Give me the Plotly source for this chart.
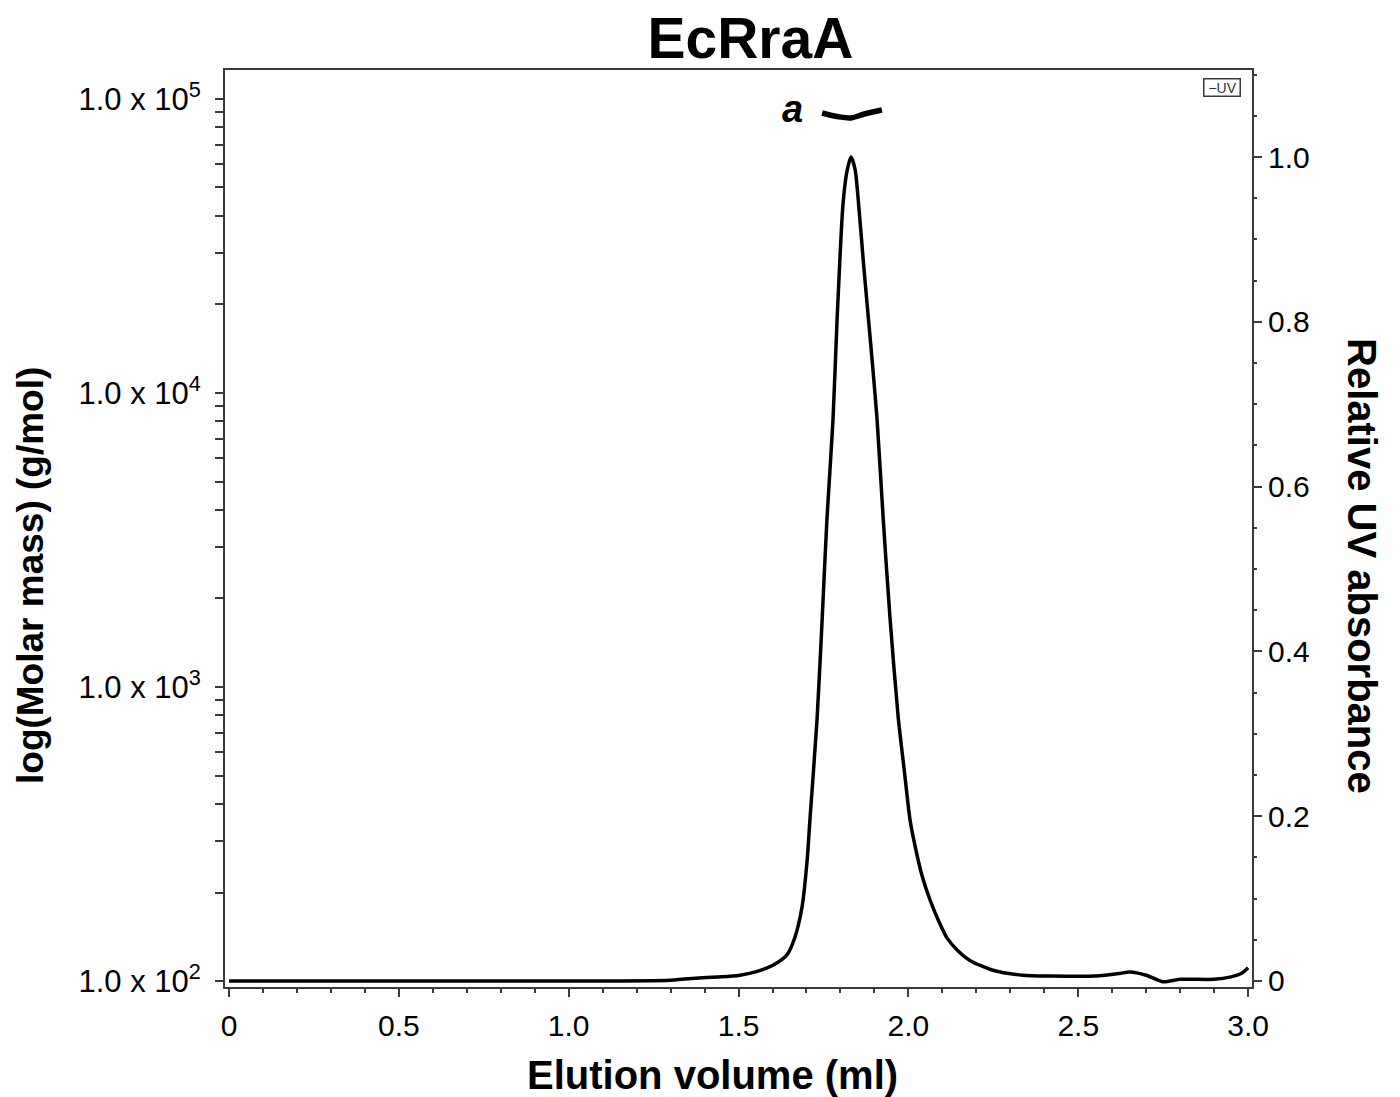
import plotly.graph_objects as go

# ---- data ----
elution_uv = [0.00, 0.50, 1.00, 1.30, 1.395, 1.45, 1.504, 1.55, 1.601, 1.643, 1.666, 1.687,
              1.702, 1.710, 1.731, 1.746, 1.760, 1.778, 1.790, 1.807, 1.818, 1.831,
              1.843, 1.855, 1.868, 1.881, 1.895, 1.908, 1.926, 1.946, 1.970, 1.988, 2.005,
              2.020, 2.040, 2.064, 2.090, 2.114, 2.145, 2.181, 2.249, 2.337, 2.42,
              2.55, 2.62, 2.652, 2.70, 2.75, 2.80, 2.90, 2.95, 2.98, 3.00]
uv_abs = [0.000, 0.000, 0.000, 0.001, 0.004, 0.005, 0.007, 0.011, 0.019, 0.032, 0.053, 0.090,
          0.147, 0.195, 0.317, 0.438, 0.559, 0.681, 0.802, 0.940, 0.980, 1.000,
          0.985, 0.935, 0.870, 0.810, 0.745, 0.680, 0.560, 0.440, 0.320, 0.255, 0.195,
          0.163, 0.128, 0.098, 0.072, 0.052, 0.037, 0.025, 0.013, 0.007, 0.006,
          0.006, 0.009, 0.011, 0.007, -0.001, 0.002, 0.002, 0.005, 0.009, 0.016]

elution_mass = [1.746, 1.790, 1.831, 1.870, 1.922]
molar_mass = [89600, 87200, 86200, 88900, 91700]

x_tickvals = [0, 0.5, 1.0, 1.5, 2.0, 2.5, 3.0]
x_ticktext = ["0", "0.5", "1.0", "1.5", "2.0", "2.5", "3.0"]
mass_tickvals = [1e2, 1e3, 1e4, 1e5]
mass_ticktext = ["1.0 x 10<sup>2</sup>", "1.0 x 10<sup>3</sup>",
                 "1.0 x 10<sup>4</sup>", "1.0 x 10<sup>5</sup>"]
uv_tickvals = [0, 0.2, 0.4, 0.6, 0.8, 1.0]
uv_ticktext = ["0", "0.2", "0.4", "0.6", "0.8", "1.0"]

FONT = "Liberation Sans, Arial, sans-serif"
AX = "#3a3a3a"

mass_minor = [m * 10 ** e for e in (2, 3, 4) for m in range(2, 10)]

fig = go.Figure()
fig.add_trace(go.Scatter(x=elution_uv, y=uv_abs, mode="lines", name="UV",
                         line=dict(color="black", width=3.5, shape="spline", smoothing=0.7),
                         yaxis="y2", showlegend=False))
fig.add_trace(go.Scatter(x=elution_mass, y=molar_mass, mode="lines", name="a",
                         line=dict(color="black", width=5.5, shape="spline"),
                         yaxis="y", showlegend=False))

fig.update_layout(
    width=1400, height=1097,
    margin=dict(l=225, r=148, t=70, b=110),
    paper_bgcolor="white", plot_bgcolor="white",
    font=dict(family=FONT, color="black"),
    title=dict(text="<b>EcRraA</b>", x=0.536, xanchor="center",
               y=1 - 38 / 1097, yanchor="middle",
               font=dict(size=57, family=FONT, color="black")),
    xaxis=dict(range=[-0.0118, 3.0115], tickvals=x_tickvals, ticktext=x_ticktext,
               showline=True, linecolor=AX, linewidth=2, mirror=True,
               ticks="outside", ticklen=8, tickwidth=2, tickcolor=AX,
               tickfont=dict(size=30, family=FONT, color="black"),
               ticklabelstandoff=3,
               minor=dict(dtick=0.1, tick0=0, ticks="outside", ticklen=4,
                          tickwidth=2, tickcolor=AX),
               showgrid=False, zeroline=False),
    yaxis=dict(type="log", range=[1.9796, 5.0986], tickvals=mass_tickvals,
               ticktext=mass_ticktext, showline=True, linecolor=AX, linewidth=2,
               ticks="outside", ticklen=8, tickwidth=2, tickcolor=AX,
               tickfont=dict(size=31, family=FONT, color="black"),
               ticklabelstandoff=8,
               minor=dict(tickmode="array", tickvals=mass_minor, ticks="outside",
                          ticklen=8, tickwidth=2, tickcolor=AX),
               showgrid=False, zeroline=False),
    yaxis2=dict(range=[-0.0073, 1.1056], overlaying="y", side="right",
                tickvals=uv_tickvals, ticktext=uv_ticktext,
                showline=True, linecolor=AX, linewidth=2,
                ticks="outside", ticklen=8, tickwidth=2, tickcolor=AX,
                tickfont=dict(size=30, family=FONT, color="black"),
                ticklabelstandoff=0,
                minor=dict(dtick=0.05, tick0=0, ticks="outside", ticklen=3,
                           tickwidth=2, tickcolor=AX),
                showgrid=False, zeroline=False),
)

annotations = [
    dict(text="<b>Elution volume (ml)</b>", xref="paper", yref="paper",
         x=0.475, y=(987 - 1075) / 917, xanchor="center", yanchor="middle",
         showarrow=False, font=dict(size=40, family=FONT, color="black")),
    dict(text="<b>log(Molar mass) (g/mol)</b>", xref="paper", yref="paper",
         x=(30 - 225) / 1027, y=(987 - 576) / 917, xanchor="center", yanchor="middle",
         textangle=-90, showarrow=False, font=dict(size=37, family=FONT, color="black")),
    dict(text="<b>Relative UV absorbance</b>", xref="paper", yref="paper",
         x=(1362 - 225) / 1027, y=(987 - 566) / 917, xanchor="center", yanchor="middle",
         textangle=90, showarrow=False, font=dict(size=40, family=FONT, color="black")),
    dict(text="<b><i>a</i></b>", xref="x", yref="y2", x=1.660, y=1.058,
         xanchor="center", yanchor="middle", showarrow=False,
         font=dict(size=38, family=FONT, color="black")),
    dict(text="\u00a0−UV\u00a0", xref="paper", yref="paper", x=(1222 - 225) / 1027,
         y=(987 - 88) / 917, xanchor="center", yanchor="middle", showarrow=False,
         bordercolor=AX, borderwidth=1.5, borderpad=0,
         font=dict(size=14, family=FONT, color="#333")),
]
fig.update_layout(annotations=annotations)

fig.write_html("out.html", config={"displayModeBar": False},
               post_script="document.body.style.margin='0';")
